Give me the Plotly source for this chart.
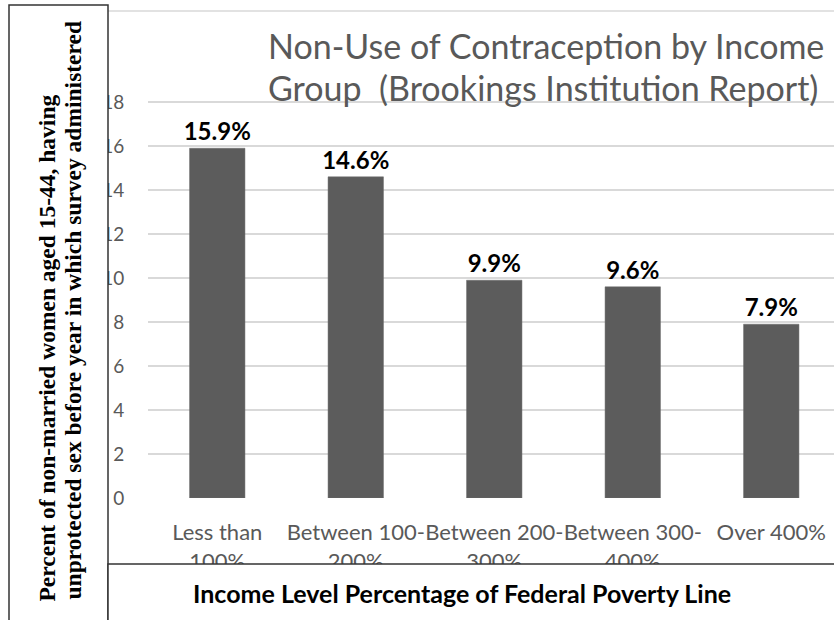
import plotly.graph_objects as go

# Survey data: share of non-married women (15-44) reporting unprotected sex
income_groups = ["Less than<br>100%", "Between 100-<br>200%", "Between 200-<br>300%",
                 "Between 300-<br>400%", "Over 400%"]
non_use_pct = [15.9, 14.6, 9.9, 9.6, 7.9]
y_ticks = [0, 2, 4, 6, 8, 10, 12, 14, 16, 18]

W, H = 834, 620
ML, MR, MT, MB = 148, 0, 11, 122
PW, PH = W - ML - MR, H - MT - MB


def px(x):
    return (x - ML) / PW


def py(y):
    return (H - MB - y) / PH


GRAY = "#595959"
SANS = "Lato, 'Open Sans', sans-serif"
SERIF = "'Liberation Serif', 'Times New Roman', serif"

x_pos = list(range(len(income_groups)))

fig = go.Figure(go.Bar(
    x=x_pos,
    y=non_use_pct,
    width=0.4,
    marker=dict(color="#5c5c5c", line=dict(color="#6a6a6a", width=0.5)),
    text=[f"{v:.1f}%" for v in non_use_pct],
    textposition="outside",
    constraintext="none",
    textfont=dict(family=SANS, size=24, color="#000000", weight="bold"),
    cliponaxis=False,
))

fig.update_layout(
    width=W, height=H,
    margin=dict(l=ML, r=MR, t=MT, b=MB, pad=0, autoexpand=False),
    paper_bgcolor="white", plot_bgcolor="white",
    showlegend=False,
    xaxis=dict(
        range=[-0.5, 4.453], automargin=False, tickangle=0,
        tickmode="array", tickvals=x_pos, ticktext=income_groups,
        tickfont=dict(family=SANS, size=22, color=GRAY),
        ticks="outside", ticklen=15, tickcolor="rgba(0,0,0,0)",
        showgrid=False, zeroline=False, showline=False,
    ),
    yaxis=dict(
        range=[0, 22.14], automargin=False,
        tickmode="array", tickvals=y_ticks,
        tickfont=dict(family=SANS, size=19, color=GRAY),
        ticks="outside", ticklen=19, tickcolor="rgba(0,0,0,0)",
        showgrid=True, gridcolor="#d9d9d9", gridwidth=1.5,
        zeroline=False, showline=False,
    ),
)

shapes = [
    # light rule along the top of the chart area
    dict(type="line", xref="paper", yref="paper", x0=px(108), x1=px(834),
         y0=py(11), y1=py(11), line=dict(color="#d9d9d9", width=1.5), layer="below"),
    # framed box holding the vertical axis title
    dict(type="rect", xref="paper", yref="paper", x0=px(9), x1=px(108),
         y0=py(630), y1=py(5), fillcolor="white",
         line=dict(color="#333333", width=1.5), layer="above"),
    # framed box holding the horizontal axis title
    dict(type="rect", xref="paper", yref="paper", x0=px(108), x1=px(850),
         y0=py(630), y1=py(564), fillcolor="white",
         line=dict(color="#333333", width=1.5), layer="above"),
]
fig.update_layout(shapes=shapes)

annotations = [
    dict(text="Non-Use of Contraception by Income", x=px(266), y=py(45),
         xanchor="left", font=dict(family=SANS, size=34, color=GRAY)),
    dict(text="Group  (Brookings Institution Report)", x=px(266), y=py(88),
         xanchor="left", font=dict(family=SANS, size=34, color=GRAY)),
    dict(text="Income Level Percentage of Federal Poverty Line", x=px(462), y=py(593),
         font=dict(family=SANS, size=25, color="#000000", weight="bold")),
    dict(text="Percent of non-married women aged 15-44, having", x=px(46), y=py(604),
         yanchor="bottom", textangle=-90,
         font=dict(family=SERIF, size=23.5, color="#000000", weight="bold")),
    dict(text="unprotected sex before year in which survey administered", x=px(72), y=py(602),
         yanchor="bottom", textangle=-90,
         font=dict(family=SERIF, size=23.5, color="#000000", weight="bold")),
]
for a in annotations:
    a.setdefault("xanchor", "center")
    a.setdefault("yanchor", "middle")
    a.update(xref="paper", yref="paper", showarrow=False)
fig.update_layout(annotations=annotations)

fig.write_html("out.html")
